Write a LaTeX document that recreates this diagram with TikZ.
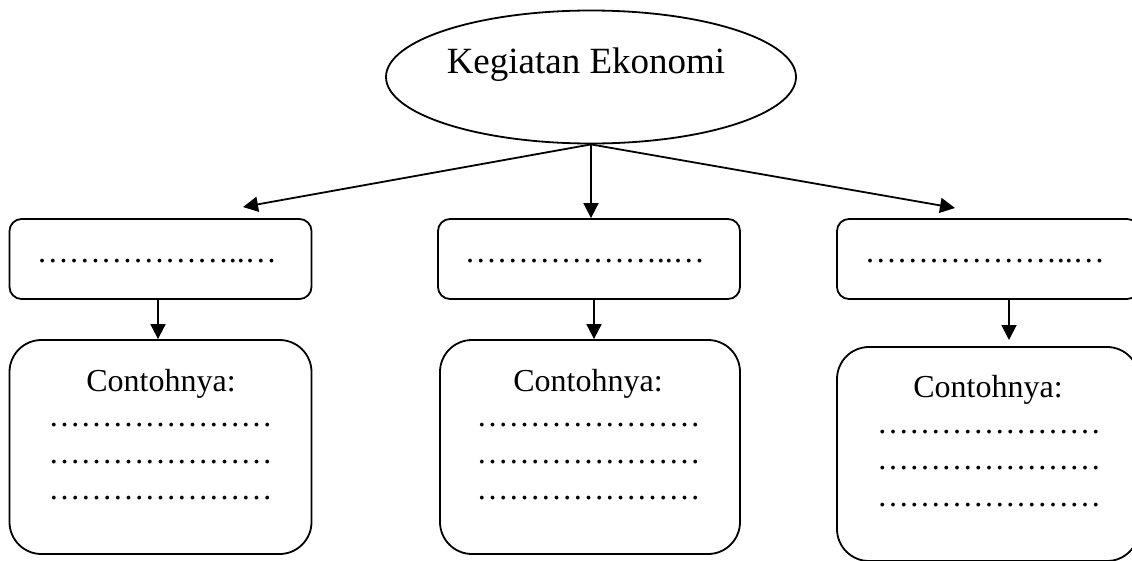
\documentclass[tikz,border=0pt]{standalone}
\usepackage{fontspec}
\setmainfont{Liberation Serif}
\usetikzlibrary{shapes.geometric,arrows.meta}
% one ellipsis glyph
\newcommand{\elp}{…}
\begin{document}
\begin{tikzpicture}[x=1pt,y=-1pt,
  line width=1.8pt,
  topbox/.style={draw, rounded corners=12pt, minimum width=302pt, minimum height=80pt, inner sep=0pt},
  examplebox/.style={draw, rounded corners=32pt, minimum width=302pt, minimum height=214pt, inner sep=0pt},
  link/.style={-{Triangle[length=15pt,width=15pt]}},
  headfont/.style={font=\fontsize{37}{44}\selectfont, inner sep=0pt},
  bodyfont/.style={font=\fontsize{32}{37}\selectfont, inner sep=0pt},
]
\useasboundingbox (0,0) rectangle (1132,560);
\clip (0,0) rectangle (1132,560);

% main topic
\node[draw, ellipse, minimum width=410pt, minimum height=133pt, inner sep=0pt] (ekon) at (591,77) {};
\node[headfont, anchor=base] (judul) at (586,73) {Kegiatan Ekonomi};

% category boxes
\node[topbox] (kat1) at (160.5,259) {};
\node[topbox] (kat2) at (589,259) {};
\node[topbox] (kat3) at (988,259) {};
\node[bodyfont, anchor=base west] (isi1) at (36,262) {\elp\elp\elp\elp\elp\elp..\elp};
\node[bodyfont, anchor=base west] (isi2) at (464,262) {\elp\elp\elp\elp\elp\elp..\elp};
\node[bodyfont, anchor=base west] (isi3) at (864,262) {\elp\elp\elp\elp\elp\elp..\elp};

% example boxes
\node[examplebox] (contoh1) at (160.5,447) {};
\node[examplebox, minimum width=300pt] (contoh2) at (590,447) {};
\node[examplebox] (contoh3) at (988,454) {};

\node[bodyfont, anchor=base] (lab1) at (161,391) {Contohnya:};
\node[bodyfont, anchor=base] (lab2) at (588,391) {Contohnya:};
\node[bodyfont, anchor=base] (lab3) at (988,397) {Contohnya:};

\node[bodyfont, anchor=base] (a1) at (160.5,426) {\elp\elp\elp\elp\elp\elp\elp};
\node[bodyfont, anchor=base] (b1) at (160.5,463) {\elp\elp\elp\elp\elp\elp\elp};
\node[bodyfont, anchor=base] (c1) at (160.5,499) {\elp\elp\elp\elp\elp\elp\elp};
\node[bodyfont, anchor=base] (a2) at (588.5,426) {\elp\elp\elp\elp\elp\elp\elp};
\node[bodyfont, anchor=base] (b2) at (588.5,463) {\elp\elp\elp\elp\elp\elp\elp};
\node[bodyfont, anchor=base] (c2) at (588.5,499) {\elp\elp\elp\elp\elp\elp\elp};
\node[bodyfont, anchor=base] (a3) at (989,433) {\elp\elp\elp\elp\elp\elp\elp};
\node[bodyfont, anchor=base] (b3) at (989,469) {\elp\elp\elp\elp\elp\elp\elp};
\node[bodyfont, anchor=base] (c3) at (989,506) {\elp\elp\elp\elp\elp\elp\elp};

% connectors
\coordinate (tipL) at (243,207);
\coordinate (tipR) at (955,208);
\coordinate (src3) at (1009,299);
\coordinate (tip3) at (1009,340);
\draw[link] (ekon.south) -- (tipL);
\draw[link] (ekon.south) -- (ekon.south |- kat2.north);
\draw[link] (ekon.south) -- (tipR);
\draw[link] (kat1.south -| 158,0) -- (contoh1.north -| 158,0);
\draw[link] (kat2.south -| 594,0) -- (contoh2.north -| 594,0);
\draw[link] (src3) -- (tip3);
\end{tikzpicture}
\end{document}
